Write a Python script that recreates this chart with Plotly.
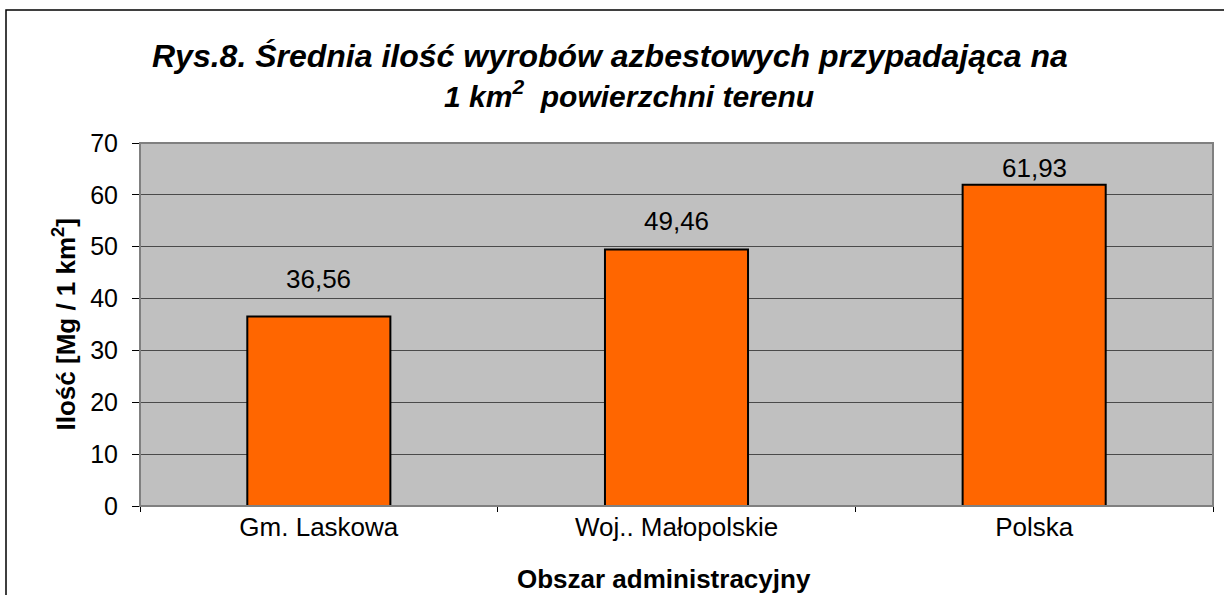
import plotly.graph_objects as go

categories = ["Gm. Laskowa", "Woj.. Małopolskie", "Polska"]
values = [36.56, 49.46, 61.93]
value_labels = ["36,56", "49,46", "61,93"]
y_ticks = [0, 10, 20, 30, 40, 50, 60, 70]

title_line1 = "Rys.8. Średnia ilość wyrobów azbestowych przypadająca na"
title_line2 = "1 km<sup>2</sup>  powierzchni terenu"
y_title = "Ilość [Mg / 1 km<sup>2</sup>]"
x_title = "Obszar administracyjny"

# label offsets (px) above bar tops, style only
label_shift = [20, 12, 0]

FONT = "Arial, Liberation Sans, sans-serif"

fig = go.Figure()
fig.add_trace(go.Bar(
    x=categories, y=values,
    marker=dict(color="#FF6600", line=dict(color="black", width=2)),
    hoverinfo="skip",
))

for c, v, t, s in zip(categories, values, value_labels, label_shift):
    fig.add_annotation(x=c, y=v, text=t, showarrow=False, yanchor="bottom",
                       yshift=s, font=dict(family=FONT, size=26, color="black"))

W, H = 1224, 595
L, R, T, B = 140, 11, 143, 89
pw, ph = W - L - R, H - T - B

def px(xp):
    return (xp - L) / pw

def py(yp):
    return (H - B - yp) / ph

fig.add_annotation(xref="paper", yref="paper", x=px(610), y=py(56), text=f"<b><i>{title_line1}</i></b>",
                   showarrow=False, xanchor="center", yanchor="middle",
                   font=dict(family=FONT, size=32, color="black"))
fig.add_annotation(xref="paper", yref="paper", x=px(629), y=py(94), text=f"<b><i>{title_line2}</i></b>",
                   showarrow=False, xanchor="center", yanchor="middle",
                   font=dict(family=FONT, size=30, color="black"))
fig.add_annotation(xref="paper", yref="paper", x=px(65), y=0.5, text=f"<b>{y_title}</b>",
                   showarrow=False, textangle=-90, xanchor="center", yanchor="middle",
                   font=dict(family=FONT, size=26, color="black"))
fig.add_annotation(xref="paper", yref="paper", x=px(664), y=py(579), text=f"<b>{x_title}</b>",
                   showarrow=False, xanchor="center", yanchor="middle",
                   font=dict(family=FONT, size=26, color="black"))

# plot area border
fig.add_shape(type="rect", xref="paper", yref="paper", x0=0, y0=0, x1=1, y1=1,
              line=dict(color="#808080", width=2), layer="above")
# outer chart frame
fig.add_shape(type="rect", xref="paper", yref="paper", x0=px(6), y0=py(600), x1=px(1240), y1=py(10),
              line=dict(color="black", width=1.5), layer="above")

fig.update_layout(
    width=W, height=H,
    margin=dict(l=L, r=R, t=T, b=B, pad=0),
    paper_bgcolor="white", plot_bgcolor="#C0C0C0",
    bargap=0.6, showlegend=False,
    font=dict(family=FONT, size=25, color="black"),
)
fig.update_xaxes(
    showgrid=False, showline=True, linecolor="black", linewidth=1,
    ticks="outside", ticklen=5, tickcolor="black", tickson="boundaries",
    tickfont=dict(family=FONT, size=26, color="black"), ticklabelstandoff=-2,
)
fig.update_yaxes(
    range=[0, 70], tickvals=y_ticks, showgrid=True, gridcolor="#4a4a4a", gridwidth=1,
    showline=True, linecolor="black", linewidth=1, zeroline=False,
    ticks="outside", ticklen=7, tickcolor="black",
    tickfont=dict(family=FONT, size=25, color="black"), ticklabelstandoff=9,
)

fig.write_html("out.html", config={"displayModeBar": False},
               post_script="document.body.style.margin='0';document.body.style.overflow='hidden';")
